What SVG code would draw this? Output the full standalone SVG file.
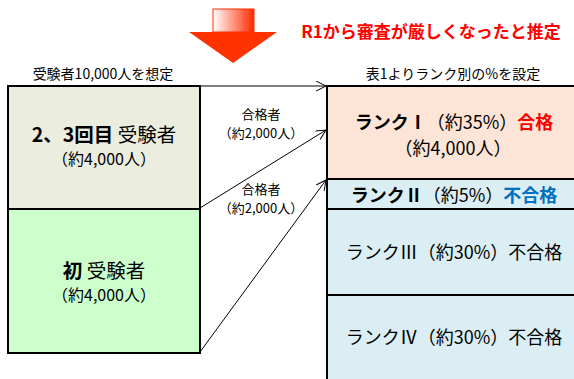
<svg xmlns="http://www.w3.org/2000/svg" width="574" height="379" viewBox="0 0 574 379">
<style>
text{font-family:"Noto Sans CJK JP","Liberation Sans",sans-serif;fill:#000}
.box{stroke:#000;stroke-width:2}
.big{font-size:18px}
.mid{font-size:16px}
.sm{font-size:13px}
.top{font-size:14px}
.b{font-weight:bold}
.con{stroke:#000;stroke-width:1;fill:none;marker-end:url(#ah)}
</style>
<defs>
<marker id="ah" markerWidth="12" markerHeight="12" refX="10" refY="5" orient="auto" markerUnits="userSpaceOnUse">
<path d="M0,0 L10,5 L0,10" fill="none" stroke="#000" stroke-width="1"/>
</marker>
<linearGradient id="g" x1="0" y1="0" x2="1" y2="0">
<stop offset="0" stop-color="#fff"/>
<stop offset="1" stop-color="#ff2a00"/>
</linearGradient>
</defs>
<g id="bigarrow">
<rect x="213" y="9" width="41" height="23" fill="url(#g)" stroke="#ff2a00" stroke-width="1"/>
<polygon points="189,32 277,32 233,63" fill="#ff3300"/>
</g>
<text x="431" y="38" text-anchor="middle" class="b" style="font-size:17px;fill:#ff0000">R1から審査が厳しくなったと推定</text>
<text x="103" y="79" text-anchor="middle" class="top">受験者10,000人を想定</text>
<text x="453" y="79" text-anchor="middle" class="top">表1よりランク別の%を設定</text>
<g id="connectors">
<line class="con" x1="200" y1="86" x2="326" y2="86"/>
<line class="con" x1="200" y1="208" x2="326" y2="130"/>
<line class="con" x1="200" y1="352" x2="326" y2="180"/>
</g>
<g id="lbl1">
<text x="261" y="119" text-anchor="middle" class="sm">合格者</text>
<text x="261" y="138" text-anchor="middle" class="sm">（約2,000人）</text>
</g>
<g id="lbl2">
<text x="261" y="194" text-anchor="middle" class="sm">合格者</text>
<text x="261" y="213" text-anchor="middle" class="sm">（約2,000人）</text>
</g>
<g id="repeat">
<rect class="box" x="8" y="86" width="192" height="123" fill="#ebeddf"/>
<text x="104" y="142" text-anchor="middle" style="font-size:19.5px"><tspan class="b">2、3回目</tspan> 受験者</text>
<text x="104" y="165" text-anchor="middle" class="mid">（約4,000人）</text>
</g>
<g id="first">
<rect class="box" x="8" y="209" width="192" height="144" fill="#ccffcc"/>
<text x="104" y="278" text-anchor="middle" style="font-size:19.5px"><tspan class="b">初</tspan> 受験者</text>
<text x="104" y="301" text-anchor="middle" class="mid">（約4,000人）</text>
</g>
<g id="rank1">
<rect class="box" x="327" y="86" width="260" height="93" fill="#fce4d6"/>
<text x="454" y="129" text-anchor="middle" class="big"><tspan class="b">ランクⅠ</tspan>（約35%）<tspan class="b" style="fill:#ff0000">合格</tspan></text>
<text x="453" y="155" text-anchor="middle" class="big">（約4,000人）</text>
</g>
<g id="rank2">
<rect class="box" x="327" y="179" width="260" height="30" fill="#daeef3"/>
<text x="454" y="202" text-anchor="middle" class="big"><tspan class="b">ランクⅡ</tspan>（約5%）<tspan class="b" style="fill:#0070c0">不合格</tspan></text>
</g>
<g id="rank3">
<rect class="box" x="327" y="209" width="260" height="86" fill="#daeef3"/>
<text x="454" y="259" text-anchor="middle" class="big">ランクⅢ（約30%）不合格</text>
</g>
<g id="rank4">
<rect class="box" x="327" y="295" width="260" height="100" fill="#daeef3"/>
<text x="454" y="344" text-anchor="middle" class="big">ランクⅣ（約30%）不合格</text>
</g>
</svg>
